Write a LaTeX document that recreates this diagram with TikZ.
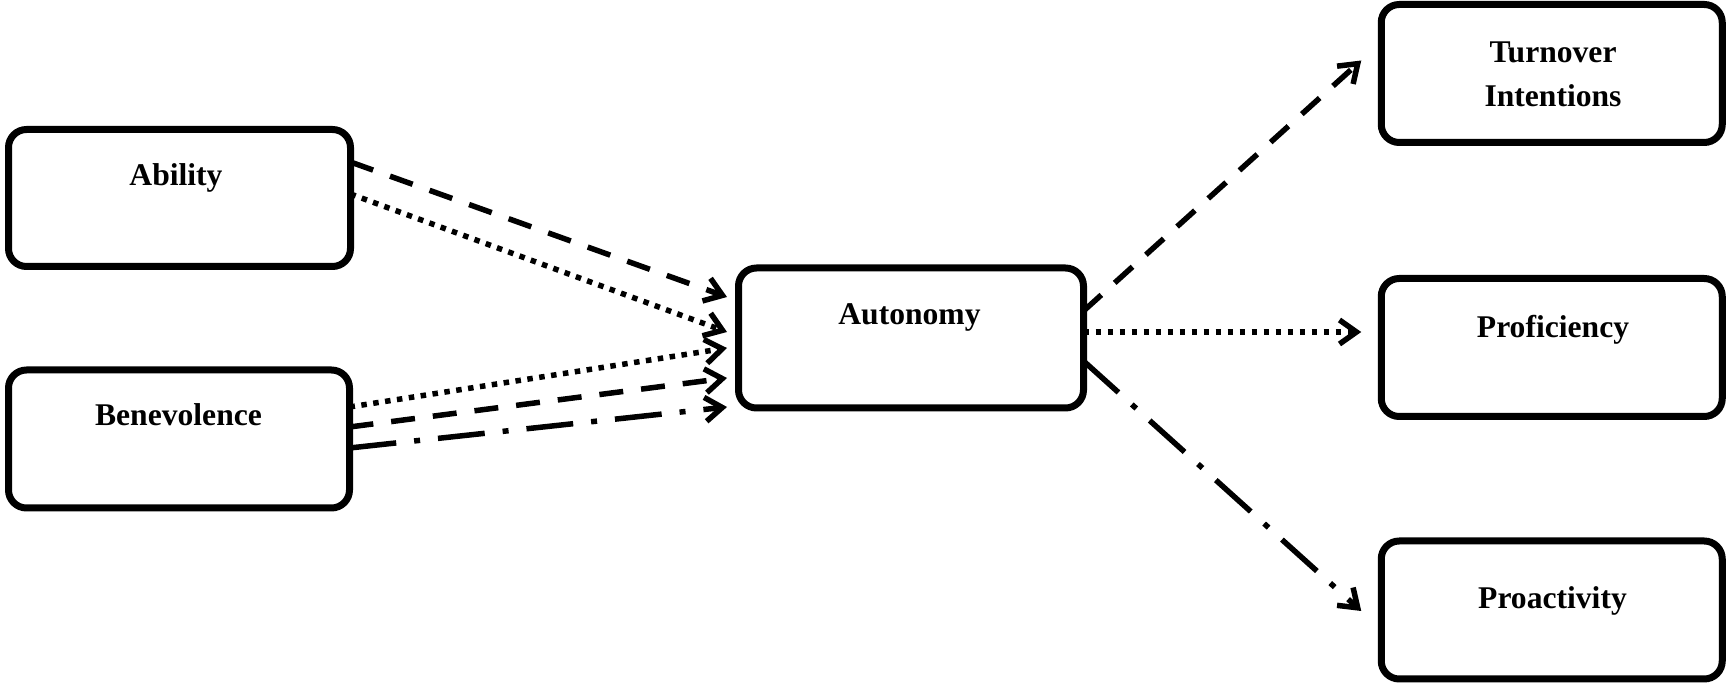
\documentclass[tikz,border=0pt]{standalone}
\usepackage{fontspec}
\setmainfont{Liberation Serif}
\usetikzlibrary{arrows.meta,calc}

\begin{document}
\begin{tikzpicture}[x=0.5pt,y=-0.5pt,
  box/.style={draw, line width=3.5pt, rounded corners=9pt, inner sep=0pt, outer sep=0pt,
              minimum width=170.5pt, minimum height=69pt},
  lbl/.style={font=\fontsize{15.8pt}{22pt}\selectfont\bfseries, inner sep=0pt, anchor=base, align=center},
  link/.style={line width=2.75pt, -{Straight Barb[length=8.5pt,width=12pt]}},
  dashline/.style={link, dash pattern=on 12pt off 9pt},
  dotline/.style={link, dash pattern=on 2.75pt off 3.25pt},
  dashdotline/.style={link, dash pattern=on 23.5pt off 9pt on 3pt off 9pt},
]
\useasboundingbox (0,0) rectangle (1726,683);

% constructs
\node[box, minimum width=171pt, minimum height=68.5pt] (ab) at (179.5,198) {};
\node[box] (be) at (179,439) {};
\node[box, minimum width=172.5pt, minimum height=70pt] (au) at (911,338) {};
\node[box] (ti) at (1551.75,73.5) {};
\node[box] (pf) at (1551.75,347.5) {};
\node[box] (pa) at (1551.75,610) {};

% labels
\node[lbl] (abt) at (176,186) {Ability};
\node[lbl] (bet) at (178.5,426) {Benevolence};
\node[lbl] (aut) at (909.5,325) {Autonomy};
\node[lbl, anchor=center] (tit) at (1553,74) {Turnover\\Intentions};
\node[lbl] (pft) at (1553,337.5) {Proficiency};
\node[lbl] (pat) at (1552.5,608.5) {Proactivity};

% paths into autonomy
\draw[dashline]    ($(ab.east)+(0,-36)$) -- ($(au.west)+(-11.5,-41)$);
\draw[dotline]     ($(ab.east)+(0,-4)$)  -- ($(au.west)+(-11.5,-6)$);
\draw[dotline]     ($(be.east)+(0,-32)$) -- ($(au.west)+(-11.5,10)$);
\draw[dashline]    ($(be.east)+(0,-12)$) -- ($(au.west)+(-11.5,40)$);
\draw[dashdotline] ($(be.east)+(0,9)$)   -- ($(au.west)+(-11.5,69)$);

% paths out of autonomy
\draw[dashline]    ($(au.east)+(0,-27)$) -- ($(ti.west)+(-20,-13)$);
\draw[dotline]     ($(au.east)+(0,-6)$)  -- ($(pf.west)+(-20,-15.5)$);
\draw[dashdotline] ($(au.east)+(0,23)$)  -- ($(pa.west)+(-20,1)$);
\end{tikzpicture}
\end{document}
